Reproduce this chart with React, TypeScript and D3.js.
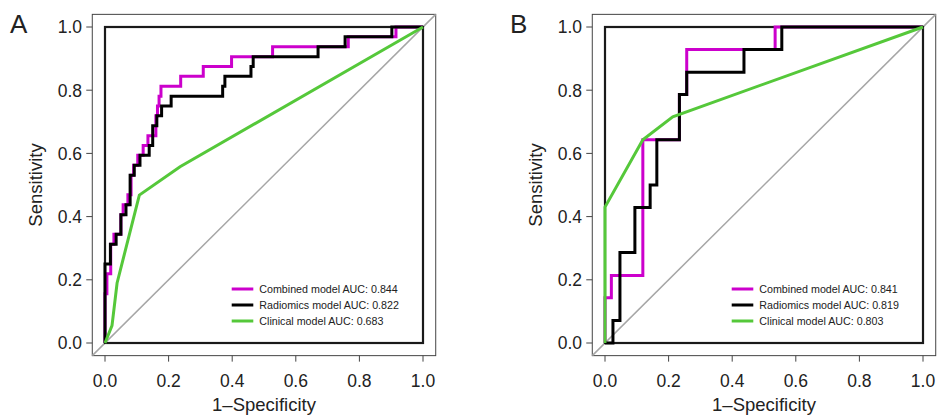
import React from "react";
import * as d3 from "d3";

const axisTicks = [0, 0.2, 0.4, 0.6, 0.8, 1.0];
const panelLabels = ["A", "B"];

const combinedA: [number, number][] = [[0,0],[0,0.156],[0.006,0.156],[0.006,0.219],[0.018,0.219],[0.018,0.3125],[0.028,0.3125],[0.028,0.344],[0.05,0.344],[0.05,0.406],[0.057,0.406],[0.057,0.4375],[0.072,0.4375],[0.072,0.469],[0.082,0.469],[0.082,0.531],[0.09,0.531],[0.09,0.5625],[0.103,0.5625],[0.103,0.594],[0.12,0.594],[0.12,0.625],[0.135,0.625],[0.135,0.656],[0.16,0.656],[0.16,0.719],[0.165,0.719],[0.165,0.75],[0.17,0.75],[0.17,0.781],[0.176,0.781],[0.176,0.8125],[0.238,0.8125],[0.238,0.844],[0.309,0.844],[0.309,0.875],[0.398,0.875],[0.398,0.906],[0.527,0.906],[0.527,0.9375],[0.765,0.9375],[0.765,0.969],[0.915,0.969],[0.915,1],[1,1]];
const radiomicsA: [number, number][] = [[0,0],[0,0.25],[0.017,0.25],[0.017,0.3125],[0.035,0.3125],[0.035,0.344],[0.05,0.344],[0.05,0.406],[0.066,0.406],[0.066,0.4375],[0.079,0.4375],[0.079,0.531],[0.092,0.531],[0.092,0.5625],[0.11,0.5625],[0.11,0.594],[0.139,0.594],[0.139,0.625],[0.15,0.625],[0.15,0.6875],[0.163,0.6875],[0.163,0.719],[0.178,0.719],[0.178,0.75],[0.208,0.75],[0.208,0.781],[0.37,0.781],[0.37,0.8125],[0.377,0.8125],[0.377,0.844],[0.459,0.844],[0.459,0.875],[0.466,0.875],[0.466,0.906],[0.67,0.906],[0.67,0.9375],[0.755,0.9375],[0.755,0.969],[0.902,0.969],[0.902,1],[1,1]];
const clinicalA: [number, number][] = [[0,0],[0.022,0.055],[0.038,0.19],[0.108,0.468],[0.236,0.558],[1,1]];

const combinedB: [number, number][] = [[0,0],[0,0.143],[0.02,0.143],[0.02,0.214],[0.119,0.214],[0.119,0.643],[0.234,0.643],[0.234,0.786],[0.257,0.786],[0.257,0.929],[0.535,0.929],[0.535,1],[1,1]];
const radiomicsB: [number, number][] = [[0,0],[0.025,0],[0.025,0.0714],[0.047,0.0714],[0.047,0.286],[0.094,0.286],[0.094,0.429],[0.142,0.429],[0.142,0.5],[0.163,0.5],[0.163,0.643],[0.234,0.643],[0.234,0.786],[0.257,0.786],[0.257,0.857],[0.437,0.857],[0.437,0.929],[0.556,0.929],[0.556,1],[1,1]];
const clinicalB: [number, number][] = [[0,0],[0,0.43],[0.119,0.643],[0.213,0.716],[1,1]];

const legendNames = ["Combined model", "Radiomics model", "Clinical model"];
const aucA = [0.844, 0.822, 0.683];
const aucB = [0.841, 0.819, 0.803];
const colors = ["#cc00cc", "#000000", "#55c83a"];

const FONT = "'Liberation Sans', Arial, Helvetica, sans-serif";

function Panel({ dx, label, curves, aucs }: { dx: number; label: string; curves: [number, number][][]; aucs: number[] }) {
  const x = d3.scaleLinear().domain([0, 1]).range([105 + dx, 423 + dx]);
  const y = d3.scaleLinear().domain([0, 1]).range([343, 27]);
  const line = d3.line<[number, number]>().x((d) => x(d[0])).y((d) => y(d[1]));
  const fmt = d3.format(".1f");
  const lo = -0.04, hi = 1.04;
  return (
    <g>
      <text x={10 + dx} y={33} fontSize={26} fontFamily={FONT} fill="#222">{label}</text>
      {/* outer plot box */}
      <rect x={x(lo)} y={y(hi)} width={x(hi) - x(lo)} height={y(lo) - y(hi)} fill="none" stroke="#444" strokeWidth={1} />
      {/* diagonal */}
      <line x1={x(lo)} y1={y(lo)} x2={x(hi)} y2={y(hi)} stroke="#a6a6a6" strokeWidth={1.5} />
      {/* inner box */}
      <rect x={x(0)} y={y(1)} width={x(1) - x(0)} height={y(0) - y(1)} fill="none" stroke="#1a1a1a" strokeWidth={2.2} />
      {/* y axis ticks */}
      {axisTicks.map((t) => (
        <g key={"y" + t}>
          <line x1={x(lo) - 6} x2={x(lo)} y1={y(t)} y2={y(t)} stroke="#444" strokeWidth={1} />
          <text x={82 + dx} y={y(t) + 6.3} textAnchor="end" fontSize={17.5} fontFamily={FONT} fill="#222">{fmt(t)}</text>
        </g>
      ))}
      {/* x axis ticks */}
      {axisTicks.map((t) => (
        <g key={"x" + t}>
          <line x1={x(t)} x2={x(t)} y1={y(lo)} y2={y(lo) + 6} stroke="#444" strokeWidth={1} />
          <text x={x(t)} y={387} textAnchor="middle" fontSize={17.5} fontFamily={FONT} fill="#222">{fmt(t)}</text>
        </g>
      ))}
      <text x={(x(0) + x(1)) / 2} y={411} textAnchor="middle" fontSize={18.5} fontFamily={FONT} fill="#222">1–Specificity</text>
      <text transform={`translate(${41.5 + dx},${(y(0) + y(1)) / 2}) rotate(-90)`} textAnchor="middle" fontSize={18.5} fontFamily={FONT} fill="#222">Sensitivity</text>
      {curves.map((c, i) => (
        <path key={"c" + i} d={line(c) || ""} fill="none" stroke={colors[i]} strokeWidth={3} strokeLinejoin="miter" strokeLinecap="butt" />
      ))}
      {legendNames.map((n, i) => {
        const ly = 289 + i * 16;
        return (
          <g key={"l" + i}>
            <line x1={231.7 + dx} x2={253.3 + dx} y1={ly} y2={ly} stroke={colors[i]} strokeWidth={3} />
            <text x={259.3 + dx} y={ly + 4} fontSize={10.7} fontFamily={FONT} fill="#222">{`${n} AUC: ${d3.format(".3f")(aucs[i])}`}</text>
          </g>
        );
      })}
    </g>
  );
}

export default function App() {
  return (
    <svg width={938} height={417} style={{ position: "absolute", left: 0, top: 0, background: "#fff" }}>
      <rect x={0} y={0} width={938} height={417} fill="#fff" />
      <Panel dx={0} label={panelLabels[0]} curves={[combinedA, radiomicsA, clinicalA]} aucs={aucA} />
      <Panel dx={500} label={panelLabels[1]} curves={[combinedB, radiomicsB, clinicalB]} aucs={aucB} />
    </svg>
  );
}
